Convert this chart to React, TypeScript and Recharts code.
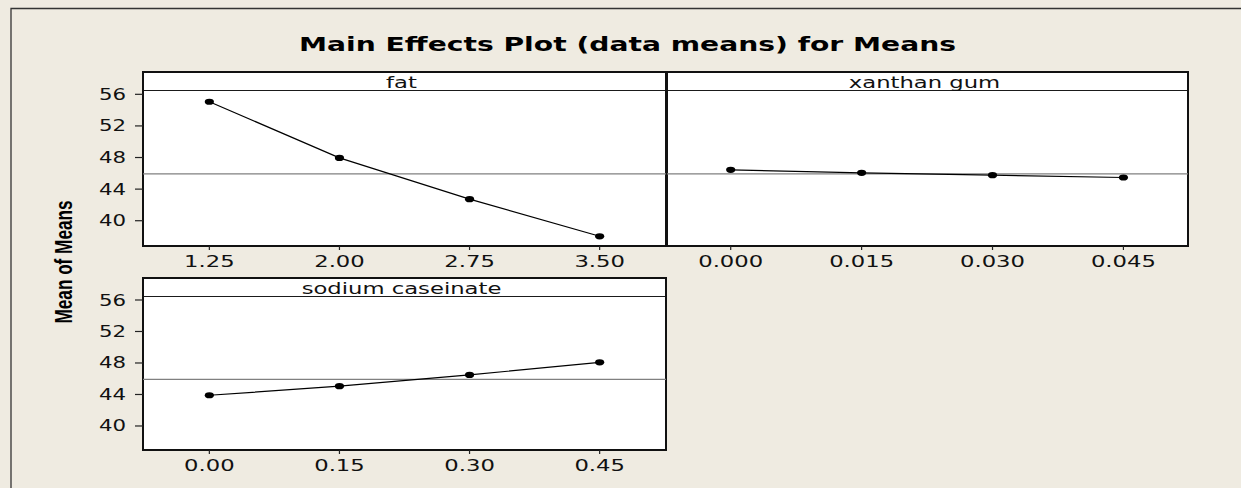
import React from 'react';
import { LineChart, Line, XAxis, YAxis, ReferenceLine } from 'recharts';

// ---- data ----
const fatLevels = [1.25, 2.0, 2.75, 3.5];
const fatMeans = [55.06, 47.95, 42.73, 38.03];
const fatTickLabels = ['1.25', '2.00', '2.75', '3.50'];

const xanthanLevels = [0, 0.015, 0.03, 0.045];
const xanthanMeans = [46.44, 46.06, 45.77, 45.47];
const xanthanTickLabels = ['0.000', '0.015', '0.030', '0.045'];

const caseinateLevels = [0, 0.15, 0.3, 0.45];
const caseinateMeans = [43.9, 45.05, 46.48, 48.09];
const caseinateTickLabels = ['0.00', '0.15', '0.30', '0.45'];

const yTicks = [40, 44, 48, 52, 56];
const yTickLabels = ['40', '44', '48', '52', '56'];
const grandMean = 45.93;

const title = 'Main Effects Plot (data means) for Means';
const yLabel = 'Mean of Means';
const stripLabels = ['fat', 'xanthan gum', 'sodium caseinate'];

// ---- layout ----
const W = 1241;
const H = 488;
const BG = '#EFEBE1';
const FONT = '"DejaVu Sans", Verdana, sans-serif';
const SX = 1.42; // horizontal stretch of the reference's text

type PanelBox = { left: number; right: number; stripTop: number; top: number; bottom: number };
const p1: PanelBox = { left: 143, right: 666, stripTop: 72, top: 91, bottom: 246 };
const p2: PanelBox = { left: 667, right: 1188, stripTop: 72, top: 91, bottom: 246 };
const p3: PanelBox = { left: 143, right: 666, stripTop: 278, top: 297, bottom: 450 };

const makeXTick = (levels: number[], labels: string[]) => (props: any) => {
  const { x, y, payload } = props;
  const i = levels.findIndex((v) => Math.abs(v - payload.value) < 1e-9);
  const label = i >= 0 ? labels[i] : String(payload.value);
  return (
    <g transform={`translate(${x},${y}) scale(${SX},1)`}>
      <text x={0} y={0} dy={15} textAnchor="middle" fontFamily={FONT} fontSize={16} fill="#111">
        {label}
      </text>
    </g>
  );
};

const YTick = (props: any) => {
  const { x, y, payload } = props;
  const i = yTicks.indexOf(payload.value);
  const label = i >= 0 ? yTickLabels[i] : String(payload.value);
  return (
    <g transform={`translate(${x},${y}) scale(${SX},1)`}>
      <text x={0} y={0} dy={5.5} textAnchor="end" fontFamily={FONT} fontSize={15} fill="#111">
        {label}
      </text>
    </g>
  );
};

const Dot = (props: any) => {
  const { cx, cy, index } = props;
  if (cx == null || cy == null) return <g key={index} />;
  return <ellipse key={index} cx={cx} cy={cy} rx={4.6} ry={3.1} fill="#000" />;
};

type PanelProps = {
  box: PanelBox;
  levels: number[];
  means: number[];
  tickLabels: string[];
  xDomain: [number, number];
  yDomain: [number, number];
  showY: boolean;
};

const Panel = ({ box, levels, means, tickLabels, xDomain, yDomain, showY }: PanelProps) => {
  const data = levels.map((lv, i) => ({ x: lv, y: means[i] }));
  const yW = showY ? 60 : 0;
  const xH = 30;
  const margin = {
    left: box.left - yW,
    right: W - box.right,
    top: box.top,
    bottom: H - box.bottom - xH,
  };
  return (
    <div style={{ position: 'absolute', left: 0, top: 0 }}>
      <LineChart width={W} height={H} data={data} margin={margin}>
        <XAxis
          type="number"
          dataKey="x"
          domain={xDomain}
          ticks={levels}
          interval={0}
          allowDataOverflow
          height={xH}
          axisLine={false}
          tickLine={{ stroke: '#222', strokeWidth: 1.2 }}
          tickSize={4}
          tickMargin={2}
          tick={makeXTick(levels, tickLabels)}
        />
        <YAxis
          type="number"
          domain={yDomain}
          ticks={yTicks}
          interval={0}
          allowDataOverflow
          width={yW}
          hide={!showY}
          axisLine={false}
          tickLine={{ stroke: '#222', strokeWidth: 1.2 }}
          tickSize={8}
          tickMargin={9}
          tick={YTick}
        />
        <ReferenceLine y={grandMean} stroke="#808080" strokeWidth={1.2} ifOverflow="visible" />
        <Line
          type="linear"
          dataKey="y"
          stroke="#000"
          strokeWidth={1.2}
          dot={Dot}
          activeDot={false}
          isAnimationActive={false}
        />
      </LineChart>
    </div>
  );
};

const Background = () => {
  const boxes = [p1, p2, p3];
  return (
    <svg width={W} height={H} style={{ position: 'absolute', left: 0, top: 0, display: 'block' }}>
      <rect x={0} y={0} width={W} height={H} fill={BG} />
      <path d={`M11,${H} L11,8.5 L${W + 5},8.5`} fill="none" stroke="#333" strokeWidth={1.3} />
      <text
        x={627.5}
        y={51}
        textAnchor="middle"
        fontFamily={FONT}
        fontWeight="bold"
        fontSize={20}
        fill="#000"
        textLength={657}
        lengthAdjust="spacingAndGlyphs"
      >
        {title}
      </text>
      <text
        transform="translate(71.5,262) rotate(-90) scale(1,1.42)"
        textAnchor="middle"
        fontFamily='"Liberation Sans", Arial, sans-serif'
        fontWeight="bold"
        fontSize={16.5}
        fill="#000"
        textLength={123}
        lengthAdjust="spacingAndGlyphs"
      >
        {yLabel}
      </text>
      {boxes.map((b, i) => (
        <g key={i}>
          <rect x={b.left} y={b.stripTop} width={b.right - b.left} height={b.bottom - b.stripTop} fill="#fff" />
          <line x1={b.left} y1={b.top - 0.5} x2={b.right} y2={b.top - 0.5} stroke="#1a1a1a" strokeWidth={1} />
          <rect
            x={b.left}
            y={b.stripTop}
            width={b.right - b.left}
            height={b.bottom - b.stripTop}
            fill="none"
            stroke="#111"
            strokeWidth={2}
          />
          <g transform={`translate(${(b.left + b.right) / 2 - 3},${b.stripTop + 16}) scale(${SX},1)`}>
            <text x={0} y={0} textAnchor="middle" fontFamily={FONT} fontSize={16} fill="#111">
              {stripLabels[i]}
            </text>
          </g>
        </g>
      ))}
    </svg>
  );
};

export default function App() {
  return (
    <div style={{ position: 'absolute', left: 0, top: 0, width: W, height: H, overflow: 'hidden' }}>
      <Background />
      <Panel
        box={p1}
        levels={fatLevels}
        means={fatMeans}
        tickLabels={fatTickLabels}
        xDomain={[0.8675, 3.8825]}
        yDomain={[36.8, 56.42]}
        showY
      />
      <Panel
        box={p2}
        levels={xanthanLevels}
        means={xanthanMeans}
        tickLabels={xanthanTickLabels}
        xDomain={[-0.0073, 0.0524]}
        yDomain={[36.8, 56.42]}
        showY={false}
      />
      <Panel
        box={p3}
        levels={caseinateLevels}
        means={caseinateMeans}
        tickLabels={caseinateTickLabels}
        xDomain={[-0.0765, 0.5265]}
        yDomain={[36.95, 56.38]}
        showY
      />
    </div>
  );
}
